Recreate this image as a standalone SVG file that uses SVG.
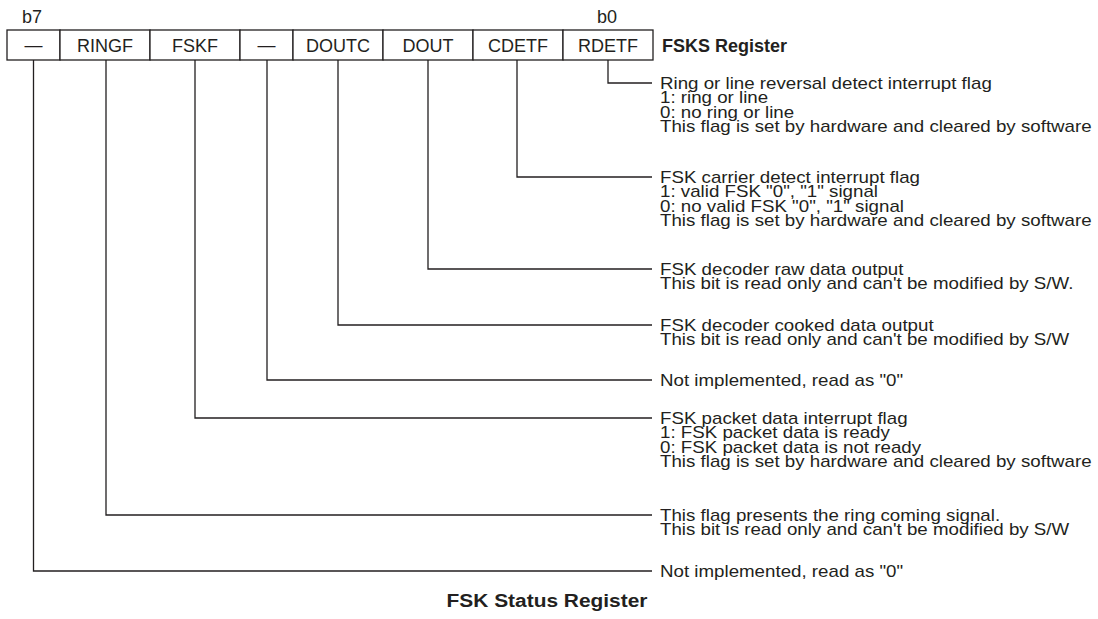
<svg xmlns="http://www.w3.org/2000/svg" width="1098" height="619" viewBox="0 0 1098 619">
<style>
.t{font-family:"Liberation Sans",Arial,sans-serif;font-size:16px;fill:#231f20}
.c{font-family:"Liberation Sans",Arial,sans-serif;font-size:18px;fill:#231f20;text-anchor:middle}
.b{font-family:"Liberation Sans",Arial,sans-serif;font-size:18px;font-weight:bold;fill:#231f20}
.cell{fill:#fff;stroke:#231f20;stroke-width:1.3}
.ln{fill:none;stroke:#231f20;stroke-width:1.3}
</style>
<rect width="1098" height="619" fill="#fff"/>
<g id="register">
<text class="c" x="32" y="23">b7</text>
<text class="c" x="607" y="23">b0</text>
<g id="bit7"><rect class="cell" x="7" y="30" width="53" height="30"/><text class="c" x="33.5" y="51">—</text></g>
<g id="bit6"><rect class="cell" x="60" y="30" width="90" height="30"/><text class="c" x="105" y="52">RINGF</text></g>
<g id="bit5"><rect class="cell" x="150" y="30" width="90" height="30"/><text class="c" x="195" y="52">FSKF</text></g>
<g id="bit4"><rect class="cell" x="240" y="30" width="53" height="30"/><text class="c" x="266.5" y="51">—</text></g>
<g id="bit3"><rect class="cell" x="293" y="30" width="90" height="30"/><text class="c" x="338" y="52">DOUTC</text></g>
<g id="bit2"><rect class="cell" x="383" y="30" width="90" height="30"/><text class="c" x="428" y="52">DOUT</text></g>
<g id="bit1"><rect class="cell" x="473" y="30" width="90" height="30"/><text class="c" x="518" y="52">CDETF</text></g>
<g id="bit0"><rect class="cell" x="563" y="30" width="90" height="30"/><text class="c" x="608" y="52">RDETF</text></g>
<text class="b" x="662" y="52">FSKS Register</text>
</g>
<g id="connectors">
<path class="ln" d="M608 60V83H652"/>
<path class="ln" d="M517 60V177H652"/>
<path class="ln" d="M428 60V269H652"/>
<path class="ln" d="M338 60V325H652"/>
<path class="ln" d="M267 60V380H652"/>
<path class="ln" d="M195 60V418H652"/>
<path class="ln" d="M106 60V515H652"/>
<path class="ln" d="M33.5 60V571H652"/>
</g>
<g transform="translate(660,0) scale(1.17,1)">
<g id="desc-rdetf">
<text class="t" x="0" y="89">Ring or line reversal detect interrupt flag</text>
<text class="t" x="0" y="103.5">1: ring or line</text>
<text class="t" x="0" y="118">0: no ring or line</text>
<text class="t" x="0" y="132.5">This flag is set by hardware and cleared by software</text>
</g>
<g id="desc-cdetf">
<text class="t" x="0" y="183">FSK carrier detect interrupt flag</text>
<text class="t" x="0" y="197.5">1: valid FSK "0", "1" signal</text>
<text class="t" x="0" y="212">0: no valid FSK "0", "1" signal</text>
<text class="t" x="0" y="226.5">This flag is set by hardware and cleared by software</text>
</g>
<g id="desc-dout">
<text class="t" x="0" y="275">FSK decoder raw data output</text>
<text class="t" x="0" y="289.5">This bit is read only and can't be modified by S/W.</text>
</g>
<g id="desc-doutc">
<text class="t" x="0" y="331">FSK decoder cooked data output</text>
<text class="t" x="0" y="345.5">This bit is read only and can't be modified by S/W</text>
</g>
<g id="desc-bit4">
<text class="t" x="0" y="386">Not implemented, read as "0"</text>
</g>
<g id="desc-fskf">
<text class="t" x="0" y="424">FSK packet data interrupt flag</text>
<text class="t" x="0" y="438.5">1: FSK packet data is ready</text>
<text class="t" x="0" y="453">0: FSK packet data is not ready</text>
<text class="t" x="0" y="467.5">This flag is set by hardware and cleared by software</text>
</g>
<g id="desc-ringf">
<text class="t" x="0" y="521">This flag presents the ring coming signal.</text>
<text class="t" x="0" y="535.5">This bit is read only and can't be modified by S/W</text>
</g>
<g id="desc-bit7">
<text class="t" x="0" y="577">Not implemented, read as "0"</text>
</g>
</g>
<g transform="translate(547,607) scale(1.1,1)">
<text class="b" x="0" y="0" text-anchor="middle" style="font-size:19px">FSK Status Register</text>
</g>
</svg>
